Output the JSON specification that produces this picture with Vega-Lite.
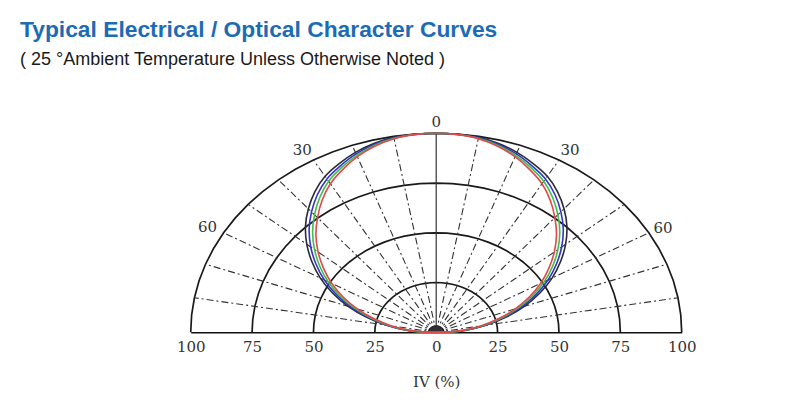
{
  "$schema": "https://vega.github.io/schema/vega-lite/v6.json",
  "width": 491,
  "height": 199,
  "autosize": {"type": "none"},
  "padding": {"left": 190.7, "top": 133.3, "right": 118.3, "bottom": 83.7},
  "background": "white",
  "config": {"view": {"stroke": null}},
  "title": {
    "text": "Typical Electrical / Optical Character Curves",
    "subtitle": "( 25 °Ambient Temperature Unless Otherwise Noted )",
    "anchor": "start",
    "frame": "group",
    "orient": "top",
    "dx": -170.7,
    "offset": 46,
    "font": "Liberation Sans",
    "fontSize": 22.8,
    "fontWeight": "bold",
    "color": "#1b6cb5",
    "subtitleFont": "Liberation Sans",
    "subtitleFontSize": 18,
    "subtitleColor": "#1a1a1a",
    "subtitlePadding": 9
  },
  "encoding": {
    "x": {
      "field": "x",
      "type": "quantitative",
      "scale": {"domain": [-100, 100], "nice": false, "zero": false},
      "axis": {
        "values": [-100, -75, -50, -25, 0, 25, 50, 75, 100],
        "labelExpr": "'' + abs(datum.value)",
        "domain": true,
        "domainColor": "#111111",
        "domainWidth": 1.6,
        "ticks": false,
        "grid": false,
        "labelFont": "DejaVu Serif",
        "labelFontSize": 15,
        "labelColor": "#333333",
        "labelPadding": 7,
        "labelFlush": false,
        "labelOverlap": false,
        "title": "IV (%)",
        "titleFont": "DejaVu Serif",
        "titleFontSize": 15,
        "titleFontWeight": "normal",
        "titleColor": "#333333",
        "titlePadding": 20
      }
    },
    "y": {
      "field": "y",
      "type": "quantitative",
      "scale": {"domain": [0, 100], "nice": false, "zero": false},
      "axis": null
    }
  },
  "layer": [
    {
      "data": {"values": [
        {"ring": 25, "a": [-90,-85,-80,-75,-70,-65,-60,-55,-50,-45,-40,-35,-30,-25,-20,-15,-10,-5,0,5,10,15,20,25,30,35,40,45,50,55,60,65,70,75,80,85,90]},
        {"ring": 50, "a": [-90,-85,-80,-75,-70,-65,-60,-55,-50,-45,-40,-35,-30,-25,-20,-15,-10,-5,0,5,10,15,20,25,30,35,40,45,50,55,60,65,70,75,80,85,90]},
        {"ring": 75, "a": [-90,-85,-80,-75,-70,-65,-60,-55,-50,-45,-40,-35,-30,-25,-20,-15,-10,-5,0,5,10,15,20,25,30,35,40,45,50,55,60,65,70,75,80,85,90]},
        {"ring": 100, "a": [-90,-85,-80,-75,-70,-65,-60,-55,-50,-45,-40,-35,-30,-25,-20,-15,-10,-5,0,5,10,15,20,25,30,35,40,45,50,55,60,65,70,75,80,85,90]}
      ]},
      "transform": [
        {"flatten": ["a"]},
        {"calculate": "datum.ring * sin(datum.a * PI / 180)", "as": "x"},
        {"calculate": "datum.ring * cos(datum.a * PI / 180)", "as": "y"}
      ],
      "mark": {"type": "line", "color": "#1a1a1a", "strokeWidth": 1.7},
      "encoding": {
        "detail": {"field": "ring"},
        "order": {"field": "a", "type": "quantitative"}
      }
    },
    {
      "data": {"values": [
        {"ring": 1, "a": [-90,-60,-30,0,30,60,90]},
        {"ring": 2, "a": [-90,-60,-30,0,30,60,90]},
        {"ring": 3, "a": [-90,-60,-30,0,30,60,90]}
      ]},
      "transform": [
        {"flatten": ["a"]},
        {"calculate": "datum.ring * sin(datum.a * PI / 180)", "as": "x"},
        {"calculate": "datum.ring * cos(datum.a * PI / 180)", "as": "y"}
      ],
      "mark": {"type": "line", "color": "#111111", "strokeWidth": 2.2, "interpolate": "catmull-rom"},
      "encoding": {
        "detail": {"field": "ring"},
        "order": {"field": "a", "type": "quantitative"}
      }
    },
    {
      "data": {"values": [
        {"angle": -80}, {"angle": -70}, {"angle": -60}, {"angle": -50},
        {"angle": -40}, {"angle": -30}, {"angle": -20}, {"angle": -10},
        {"angle": 10}, {"angle": 20}, {"angle": 30}, {"angle": 40},
        {"angle": 50}, {"angle": 60}, {"angle": 70}, {"angle": 80}
      ]},
      "transform": [
        {"calculate": "0", "as": "x"},
        {"calculate": "0", "as": "y"},
        {"calculate": "100 * sin(datum.angle * PI / 180)", "as": "x2"},
        {"calculate": "100 * cos(datum.angle * PI / 180)", "as": "y2"}
      ],
      "mark": {"type": "rule", "color": "#333333", "strokeWidth": 1.1, "strokeDash": [7, 3, 2, 3]},
      "encoding": {
        "x2": {"field": "x2"},
        "y2": {"field": "y2"}
      }
    },
    {
      "data": {"values": [{"angle": 0}]},
      "transform": [
        {"calculate": "0", "as": "x"},
        {"calculate": "0", "as": "y"},
        {"calculate": "100 * sin(datum.angle * PI / 180)", "as": "x2"},
        {"calculate": "100 * cos(datum.angle * PI / 180)", "as": "y2"}
      ],
      "mark": {"type": "rule", "color": "#333333", "strokeWidth": 1.2},
      "encoding": {
        "x2": {"field": "x2"},
        "y2": {"field": "y2"}
      }
    },
    {
      "data": {"values": [
        {"angle": -90, "black": 0, "blue": 0, "green": 0, "red": 0},
        {"angle": -88, "black": 6.5, "blue": 6.3, "green": 6.0, "red": 5.8},
        {"angle": -85, "black": 12.3, "blue": 11.8, "green": 11.3, "red": 10.9},
        {"angle": -80, "black": 20.8, "blue": 20.0, "green": 19.2, "red": 18.4},
        {"angle": -75, "black": 29.5, "blue": 28.3, "green": 27.3, "red": 26.2},
        {"angle": -70, "black": 38.2, "blue": 36.8, "green": 35.4, "red": 34.1},
        {"angle": -65, "black": 46.5, "blue": 44.8, "green": 43.2, "red": 41.7},
        {"angle": -60, "black": 54.5, "blue": 52.6, "green": 50.8, "red": 49.1},
        {"angle": -55, "black": 61.8, "blue": 59.8, "green": 57.9, "red": 56.0},
        {"angle": -50, "black": 68.8, "blue": 66.7, "green": 64.7, "red": 62.8},
        {"angle": -45, "black": 75.3, "blue": 73.2, "green": 71.2, "red": 69.3},
        {"angle": -40, "black": 81.0, "blue": 79.0, "green": 77.1, "red": 75.2},
        {"angle": -35, "black": 86.2, "blue": 84.4, "green": 82.7, "red": 81.0},
        {"angle": -30, "black": 90.5, "blue": 89.0, "green": 87.6, "red": 86.2},
        {"angle": -25, "black": 93.5, "blue": 92.3, "green": 91.3, "red": 90.2},
        {"angle": -20, "black": 96.2, "blue": 95.4, "green": 94.6, "red": 93.9},
        {"angle": -15, "black": 98.2, "blue": 97.7, "green": 97.2, "red": 96.8},
        {"angle": -10, "black": 99.5, "blue": 99.3, "green": 99.0, "red": 98.8},
        {"angle": -5, "black": 99.9, "blue": 99.8, "green": 99.8, "red": 99.7},
        {"angle": 0, "black": 100, "blue": 100, "green": 100, "red": 100},
        {"angle": 5, "black": 99.9, "blue": 99.8, "green": 99.8, "red": 99.7},
        {"angle": 10, "black": 99.5, "blue": 99.3, "green": 99.0, "red": 98.8},
        {"angle": 15, "black": 98.2, "blue": 97.7, "green": 97.2, "red": 96.8},
        {"angle": 20, "black": 96.2, "blue": 95.4, "green": 94.6, "red": 93.9},
        {"angle": 25, "black": 93.5, "blue": 92.3, "green": 91.3, "red": 90.2},
        {"angle": 30, "black": 90.5, "blue": 89.0, "green": 87.6, "red": 86.2},
        {"angle": 35, "black": 86.2, "blue": 84.4, "green": 82.7, "red": 81.0},
        {"angle": 40, "black": 81.0, "blue": 79.0, "green": 77.1, "red": 75.2},
        {"angle": 45, "black": 75.3, "blue": 73.2, "green": 71.2, "red": 69.3},
        {"angle": 50, "black": 68.8, "blue": 66.7, "green": 64.7, "red": 62.8},
        {"angle": 55, "black": 61.8, "blue": 59.8, "green": 57.9, "red": 56.0},
        {"angle": 60, "black": 54.5, "blue": 52.6, "green": 50.8, "red": 49.1},
        {"angle": 65, "black": 46.5, "blue": 44.8, "green": 43.2, "red": 41.7},
        {"angle": 70, "black": 38.2, "blue": 36.8, "green": 35.4, "red": 34.1},
        {"angle": 75, "black": 29.5, "blue": 28.3, "green": 27.3, "red": 26.2},
        {"angle": 80, "black": 20.8, "blue": 20.0, "green": 19.2, "red": 18.4},
        {"angle": 85, "black": 12.3, "blue": 11.8, "green": 11.3, "red": 10.9},
        {"angle": 88, "black": 6.5, "blue": 6.3, "green": 6.0, "red": 5.8},
        {"angle": 90, "black": 0, "blue": 0, "green": 0, "red": 0}
      ]},
      "transform": [
        {"fold": ["black", "blue", "green", "red"], "as": ["series", "r"]},
        {"calculate": "datum.r * sin(datum.angle * PI / 180)", "as": "x"},
        {"calculate": "datum.r * cos(datum.angle * PI / 180)", "as": "y"}
      ],
      "mark": {"type": "line", "strokeWidth": 1.6, "interpolate": "catmull-rom"},
      "encoding": {
        "color": {
          "field": "series",
          "type": "nominal",
          "scale": {"domain": ["black", "blue", "green", "red"], "range": ["#2a2a3a", "#3434c8", "#3fbf4a", "#e2474a"]},
          "legend": null
        },
        "order": {"field": "angle", "type": "quantitative"}
      }
    },
    {
      "data": {"values": [
        {"label": "0", "angle": 0, "r": 105.7},
        {"label": "30", "angle": -30.8, "r": 106.6},
        {"label": "30", "angle": 30.8, "r": 106.4},
        {"label": "60", "angle": -60.5, "r": 107},
        {"label": "60", "angle": 60.4, "r": 106.3}
      ]},
      "transform": [
        {"calculate": "datum.r * sin(datum.angle * PI / 180)", "as": "x"},
        {"calculate": "datum.r * cos(datum.angle * PI / 180)", "as": "y"}
      ],
      "mark": {"type": "text", "font": "DejaVu Serif", "fontSize": 15, "color": "#333333", "align": "center", "baseline": "middle"},
      "encoding": {
        "text": {"field": "label"}
      }
    }
  ]
}
